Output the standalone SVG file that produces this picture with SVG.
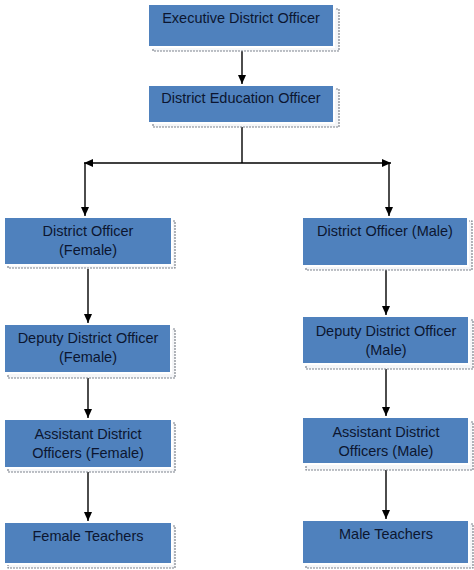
<svg xmlns="http://www.w3.org/2000/svg" width="474" height="570" viewBox="0 0 474 570">
<defs>
<style>
.box{fill:#4f81bd;stroke:#ffffff;stroke-width:2}
.sh{fill:#f5f6f8;stroke:#7f848d;stroke-width:1.2;stroke-dasharray:2 1}
.t{font-family:"Liberation Sans",Arial,sans-serif;font-size:14.5px;fill:#0c1630;text-anchor:middle}
.c{stroke:#000;stroke-width:1.4;fill:none;marker-end:url(#ah)}
</style>
<marker id="ah" markerUnits="userSpaceOnUse" markerWidth="9" markerHeight="8" refX="9" refY="4" orient="auto">
<path d="M0,0 L9,4 L0,8 z" fill="#000"/>
</marker>
</defs>
<rect width="474" height="570" fill="#ffffff"/>
<g id="connectors">
<line class="c" x1="242" y1="51" x2="242" y2="84"/>
<line x1="242" y1="127" x2="242" y2="163" stroke="#000" stroke-width="1.4"/>
<line class="c" x1="242" y1="163" x2="84" y2="163"/>
<line class="c" x1="242" y1="163" x2="391" y2="163"/>
<line class="c" x1="85" y1="163" x2="85" y2="216"/>
<line class="c" x1="389" y1="163" x2="389" y2="216"/>
<line class="c" x1="88" y1="269" x2="88" y2="323"/>
<line class="c" x1="88" y1="378" x2="88" y2="418"/>
<line class="c" x1="88" y1="472" x2="88" y2="521"/>
<line class="c" x1="386" y1="270" x2="386" y2="315"/>
<line class="c" x1="386" y1="369" x2="386" y2="416"/>
<line class="c" x1="386" y1="470" x2="386" y2="519"/>
</g>
<g id="n-edo">
<rect class="sh" x="153" y="9" width="186" height="42"/>
<rect class="box" x="148" y="4" width="186" height="43"/>
<text class="t" x="241" y="23">Executive District Officer</text>
</g>
<g id="n-deo">
<rect class="sh" x="153" y="89" width="186" height="38"/>
<rect class="box" x="148" y="85" width="186" height="38"/>
<text class="t" x="241" y="103">District Education Officer</text>
</g>
<g id="n-do-f">
<rect class="sh" x="8" y="221" width="167" height="47"/>
<rect class="box" x="4" y="217" width="168" height="48"/>
<text class="t" x="88" y="236">District Officer</text>
<text class="t" x="88" y="255">(Female)</text>
</g>
<g id="n-do-m">
<rect class="sh" x="306" y="221" width="166" height="49"/>
<rect class="box" x="302" y="217" width="166" height="49"/>
<text class="t" x="385" y="236">District Officer (Male)</text>
</g>
<g id="n-ddo-f">
<rect class="sh" x="8" y="329" width="167" height="49"/>
<rect class="box" x="4" y="324" width="167" height="49"/>
<text class="t" x="88" y="343">Deputy District Officer</text>
<text class="t" x="88" y="362">(Female)</text>
</g>
<g id="n-ddo-m">
<rect class="sh" x="306" y="320" width="167" height="49"/>
<rect class="box" x="302" y="316" width="167" height="48"/>
<text class="t" x="386" y="336">Deputy District Officer</text>
<text class="t" x="386" y="355">(Male)</text>
</g>
<g id="n-ado-f">
<rect class="sh" x="8" y="423" width="167" height="49"/>
<rect class="box" x="4" y="419" width="168" height="49"/>
<text class="t" x="88" y="439">Assistant District</text>
<text class="t" x="88" y="458">Officers (Female)</text>
</g>
<g id="n-ado-m">
<rect class="sh" x="306" y="422" width="167" height="48"/>
<rect class="box" x="302" y="417" width="167" height="47"/>
<text class="t" x="386" y="437">Assistant District</text>
<text class="t" x="386" y="456">Officers (Male)</text>
</g>
<g id="n-ft">
<rect class="sh" x="8" y="526" width="167" height="42"/>
<rect class="box" x="4" y="522" width="168" height="42"/>
<text class="t" x="88" y="541">Female Teachers</text>
</g>
<g id="n-mt">
<rect class="sh" x="306" y="524" width="167" height="44"/>
<rect class="box" x="302" y="520" width="167" height="44"/>
<text class="t" x="386" y="539">Male Teachers</text>
</g>
</svg>
